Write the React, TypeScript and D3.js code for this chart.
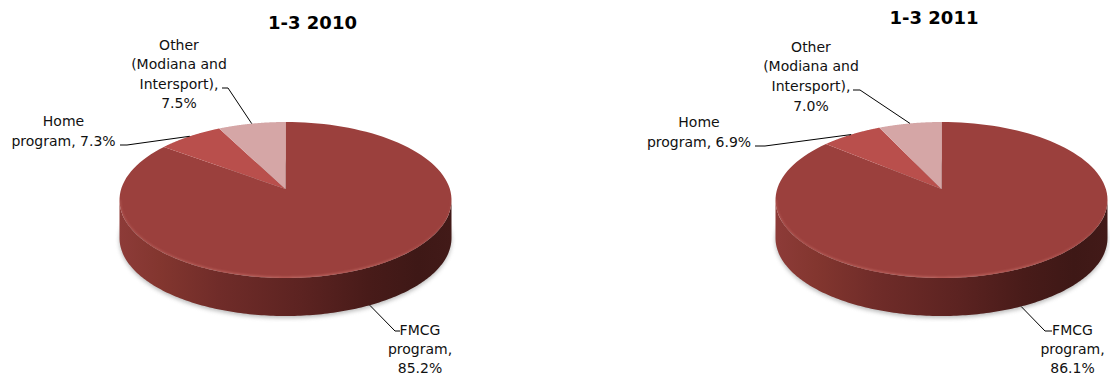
import React from "react";
import * as d3 from "d3";

// Revenue structure by programme, first quarter of each year (percent).
const categories = ["FMCG program", "Home program", "Other (Modiana and Intersport)"];
const values2010 = [85.2, 7.3, 7.5];
const values2011 = [86.1, 6.9, 7.0];
const titles = ["1-3 2010", "1-3 2011"];
const sliceColours = ["#9b403d", "#b94f4c", "#d5a6a6"];

const WIDTH = 1110;
const HEIGHT = 376;
const RX = 166;
const RY = 78;
const CY = 200;
const DEPTH = 38;
// Perspective factor: pulls the visual centre of the disc towards the back edge.
const TILT = -0.14;
const FONT = "'DejaVu Sans', Verdana, sans-serif";

// "{v}" in a line is replaced by the slice's formatted value.
type Label = { lines: string[]; x: number; y: number[]; elbow: [number, number][] };
type PieLayout = {
  cx: number;
  title: { x: number; y: number };
  labels: Label[]; // same order as categories
};

const fmt = (v: number) => `${v.toFixed(1)}%`;

const layouts: PieLayout[] = [
  {
    cx: 285.5,
    title: { x: 312.5, y: 29 },
    labels: [
      { lines: ["FMCG", "program,", "{v}"], x: 420, y: [335, 354, 373], elbow: [[395, 331], [400, 331]] },
      { lines: ["Home", "program, {v}"], x: 63.5, y: [126, 145.5], elbow: [[127, 145], [120, 145]] },
      { lines: ["Other", "(Modiana and", "Intersport),", "{v}"], x: 179, y: [50, 69, 89, 108], elbow: [[228, 88], [222, 88]] },
    ],
  },
  {
    cx: 941.5,
    title: { x: 934, y: 24 },
    labels: [
      { lines: ["FMCG", "program,", "{v}"], x: 1072.5, y: [335, 354, 373], elbow: [[1045, 331], [1052, 331]] },
      { lines: ["Home", "program, {v}"], x: 699, y: [127, 146.5], elbow: [[765, 146], [755, 146]] },
      { lines: ["Other", "(Modiana and", "Intersport),", "{v}"], x: 811, y: [52, 71, 91, 111], elbow: [[860, 90], [853, 90]] },
    ],
  },
];

// Project an angle on the disc (0 = back, clockwise) onto the tilted ellipse.
function project(angle: number, cx: number, dy = 0): [number, number] {
  const u = Math.sin(angle);
  const v = -Math.cos(angle);
  const w = 1 + TILT * v;
  const g = Math.sqrt(1 - TILT * TILT) / w;
  return [cx + RX * u * g, CY + dy + (RY * (v + TILT)) / w];
}

const centre = (cx: number): [number, number] => [cx, CY + RY * TILT];
const pieLayout = d3.pie<number>().sort(null).startAngle(0).endAngle(Math.PI * 2);
const line = d3.line();

function slicePath(start: number, end: number, cx: number) {
  const pts = d3.range(0, 121).map((i) => project(start + ((end - start) * i) / 120, cx));
  return `${line([centre(cx), ...pts])}Z`;
}

function ringPoints(from: number, to: number, cx: number, dy = 0) {
  return d3.range(0, 181).map((i) => project(from + ((to - from) * i) / 180, cx, dy));
}

// The visible wall runs between the two horizontal extremes of the ellipse.
const extreme = Math.acos(TILT);
const sideGradient: [number, string][] = [
  [0, "#8d3b38"],
  [0.12, "#83362f"],
  [0.3, "#702c29"],
  [0.55, "#5c2321"],
  [0.75, "#481b19"],
  [0.9, "#3e1816"],
  [1, "#421a18"],
];

function Pie({ values, layout, title, idx }: { values: number[]; layout: PieLayout; title: string; idx: number }) {
  const { cx } = layout;
  const arcs = pieLayout(values);
  const front = ringPoints(extreme, Math.PI * 2 - extreme, cx);
  const wallBottom = ringPoints(Math.PI * 2 - extreme, extreme, cx, DEPTH);
  const wall = `${line([...front, ...wallBottom])}Z`;
  const disc = `${line(ringPoints(0, Math.PI * 2, cx))}Z`;
  const shadowPath = `${line(ringPoints(0, Math.PI * 2, cx, DEPTH + 2))}Z`;
  const rimPath = line(ringPoints(extreme, Math.PI * 2 - extreme, cx)) ?? "";

  return (
    <g>
      <defs>
        <linearGradient id={`wall${idx}`} gradientUnits="userSpaceOnUse" x1={cx - RX} x2={cx + RX} y1={0} y2={0}>
          {sideGradient.map(([o, c]) => (
            <stop key={o} offset={o} stopColor={c} />
          ))}
        </linearGradient>
        {/* Bevel highlight fades out towards the right and left sides of the rim */}
        <linearGradient id={`rimFade${idx}`} gradientUnits="userSpaceOnUse" x1={cx - RX} x2={cx + RX} y1={0} y2={0}>
          <stop offset={0} stopColor="#c9706a" stopOpacity={0.45} />
          <stop offset={0.5} stopColor="#c9706a" stopOpacity={0.8} />
          <stop offset={0.8} stopColor="#c9706a" stopOpacity={0.6} />
          <stop offset={1} stopColor="#c9706a" stopOpacity={0.1} />
        </linearGradient>
        <clipPath id={`face${idx}`}>
          <path d={disc} />
        </clipPath>
      </defs>
      <path d={shadowPath} fill="#8a8a8a" opacity={0.6} filter="url(#soft)" />
      <path d={wall} fill={`url(#wall${idx})`} />
      {arcs.map((a, i) => (
        <path key={i} d={slicePath(a.startAngle, a.endAngle, cx)} fill={sliceColours[i]} />
      ))}
      <g clipPath={`url(#face${idx})`}>
        <path d={rimPath} fill="none" stroke={`url(#rimFade${idx})`} strokeWidth={2.2} filter="url(#rim)" />
      </g>
      {arcs.map((a, i) => {
        const mid = (a.startAngle + a.endAngle) / 2;
        const label = layout.labels[i];
        // Slices whose midpoint faces the viewer attach their leader to the wall's lower edge.
        const facesFront = Math.abs(mid - Math.PI) < Math.PI / 2;
        const anchor = project(mid, cx, facesFront ? DEPTH : 0);
        const pts: [number, number][] = [anchor, ...label.elbow];
        return (
          <g key={categories[i]}>
            <path d={line(pts) ?? ""} fill="none" stroke="#000" strokeWidth={1} />
            <text textAnchor="middle" fontFamily={FONT} fontSize={14} fill="#111">
              {label.lines.map((t, j) => (
                <tspan key={j} x={label.x} y={label.y[j]}>
                  {t.replace("{v}", fmt(values[i]))}
                </tspan>
              ))}
            </text>
          </g>
        );
      })}
      <text
        x={layout.title.x}
        y={layout.title.y}
        textAnchor="middle"
        fontFamily={FONT}
        fontWeight="bold"
        fontSize={18}
        fill="#000"
      >
        {title}
      </text>
    </g>
  );
}

export default function App() {
  const series = [values2010, values2011];
  return (
    <svg
      width={WIDTH}
      height={HEIGHT}
      viewBox={`0 0 ${WIDTH} ${HEIGHT}`}
      style={{ position: "absolute", left: 0, top: 0, display: "block", background: "#fff" }}
    >
      <defs>
        <filter id="soft" x="-10%" y="-10%" width="120%" height="130%">
          <feGaussianBlur stdDeviation="2.2" />
        </filter>
        <filter id="rim" x="-5%" y="-5%" width="110%" height="120%">
          <feGaussianBlur stdDeviation="0.8" />
        </filter>
      </defs>
      {layouts.map((l, i) => (
        <Pie key={titles[i]} values={series[i]} layout={l} title={titles[i]} idx={i} />
      ))}
    </svg>
  );
}
